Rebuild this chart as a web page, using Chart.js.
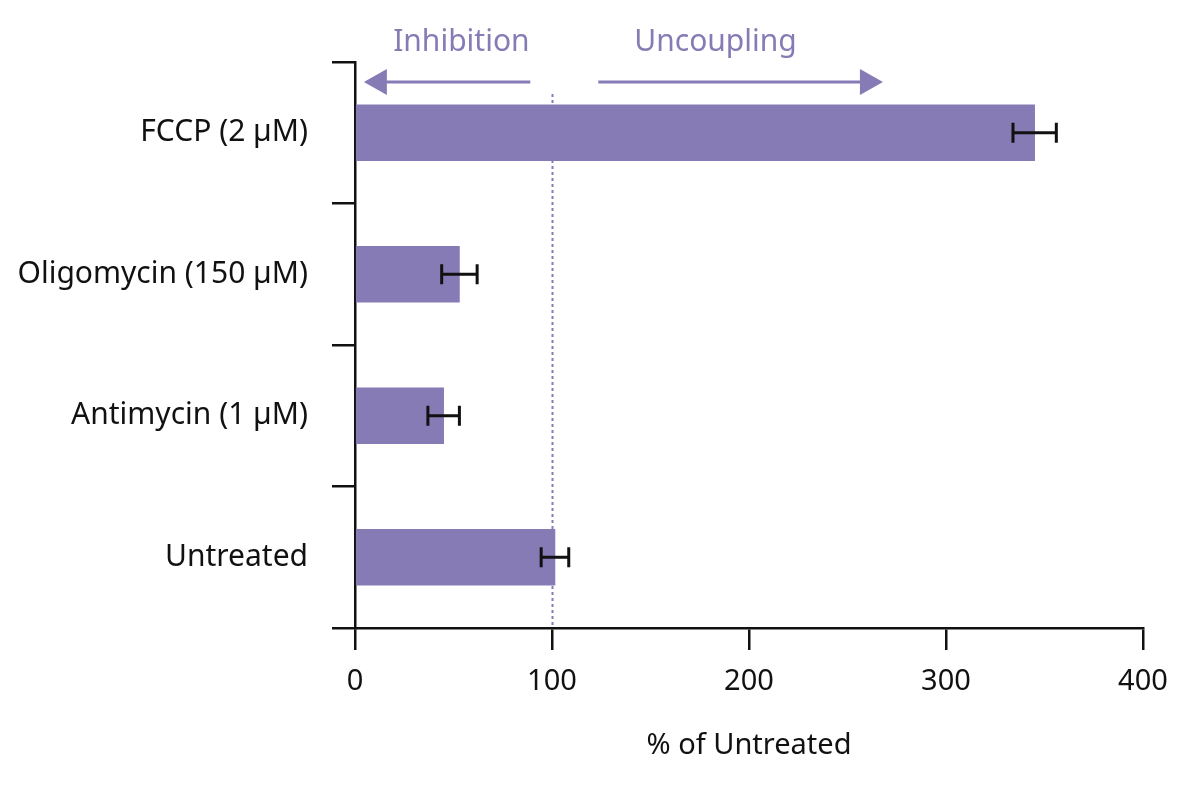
<!DOCTYPE html>
<html>
<head>
<meta charset="utf-8">
<script src="https://cdn.jsdelivr.net/npm/chart.js@4"></script>
<style>
  html, body { margin: 0; padding: 0; background: #fff; }
  #wrap { width: 1200px; height: 789px; }
</style>
</head>
<body>
<div id="wrap"><canvas id="oxChart"></canvas></div>
<script>
// data (horizontal bars, top to bottom)
const categories = ['FCCP (2 µM)', 'Oligomycin (150 µM)', 'Antimycin (1 µM)', 'Untreated'];
const percentValues = [345, 53, 45, 101.5];
const percentErrors = [11, 9, 8, 7];
const xTicks = [0, 100, 200, 300, 400];

const purple = '#877bb5';
const fontFamily = '"Noto Sans", sans-serif';

// error bars, reference line at 100 and the two direction arrows
const extras = {
    id: 'extras',
    afterDatasetsDraw(chart) {
        const c = chart.ctx;
        const xs = chart.scales.x;
        const ys = chart.scales.y;

        // error bars
        c.save();
        c.strokeStyle = '#111';
        c.lineWidth = 3;
        percentValues.forEach((v, i) => {
            const y = ys.getPixelForValue(i);
            const x1 = xs.getPixelForValue(v - percentErrors[i]);
            const x2 = xs.getPixelForValue(v + percentErrors[i]);
            c.beginPath();
            c.moveTo(x1, y); c.lineTo(x2, y);
            c.moveTo(x1, y - 10); c.lineTo(x1, y + 10);
            c.moveTo(x2, y - 10); c.lineTo(x2, y + 10);
            c.stroke();
        });
        c.restore();

        // arrows + labels
        const ay = 82;
        c.save();
        c.strokeStyle = purple;
        c.fillStyle = purple;
        c.lineWidth = 3;
        const arrow = (fromV, toV) => {
            const a = xs.getPixelForValue(fromV);
            const b = xs.getPixelForValue(toV);
            const dir = b > a ? 1 : -1;
            c.beginPath();
            c.moveTo(a, ay); c.lineTo(b - dir * 20, ay);
            c.stroke();
            c.beginPath();
            c.moveTo(b, ay);
            c.lineTo(b - dir * 23, ay - 13);
            c.lineTo(b - dir * 23, ay + 13);
            c.closePath();
            c.fill();
        };
        arrow(89, 4.5);
        arrow(123.5, 268);
        c.font = '30px ' + fontFamily;
        c.textAlign = 'center';
        c.textBaseline = 'middle';
        c.fillText('Inhibition', xs.getPixelForValue(54), 42);
        c.fillText('Uncoupling', xs.getPixelForValue(183), 42);
        c.restore();
    },
    beforeDatasetsDraw(chart) {
        const c = chart.ctx;
        const x = Math.round(chart.scales.x.getPixelForValue(100)) + 0.5;
        c.save();
        c.strokeStyle = purple;
        c.lineWidth = 2;
        c.setLineDash([3, 3]);
        c.beginPath();
        c.moveTo(x, 94);
        c.lineTo(x, chart.chartArea.bottom);
        c.stroke();
        c.restore();
    }
};

new Chart(document.getElementById('oxChart'), {
    type: 'bar',
    data: {
        labels: categories,
        datasets: [{
            data: percentValues,
            backgroundColor: purple,
            borderWidth: 0,
            barThickness: 56
        }]
    },
    options: {
        indexAxis: 'y',
        responsive: true,
        maintainAspectRatio: false,
        animation: false,
        layout: { padding: { left: 0, right: 57, top: 62, bottom: 0 } },
        plugins: { legend: { display: false }, tooltip: { enabled: false } },
        scales: {
            x: {
                type: 'linear',
                min: 0,
                max: 400,
                afterBuildTicks(scale) { scale.ticks = xTicks.map(v => ({ value: v })); },
                afterFit(scale) { scale.height = 161; },
                grid: {
                    drawOnChartArea: false,
                    drawTicks: true,
                    tickLength: 22,
                    color: '#111',
                    lineWidth: 2.5
                },
                border: { display: true, color: '#111', width: 2.5 },
                ticks: {
                    color: '#111',
                    padding: 14,
                    maxRotation: 0,
                    font: { family: fontFamily, size: 29 }
                },
                title: {
                    display: true,
                    text: '% of Untreated',
                    color: '#111',
                    padding: { top: 0, bottom: 26 },
                    font: { family: fontFamily, size: 29 }
                }
            },
            y: {
                type: 'category',
                offset: true,
                afterFit(scale) { scale.width = 355; },
                grid: {
                    offset: true,
                    drawOnChartArea: false,
                    drawTicks: true,
                    tickLength: 23,
                    color: '#111',
                    lineWidth: 2.5
                },
                border: { display: true, color: '#111', width: 2.5 },
                ticks: {
                    color: '#111',
                    padding: 24,
                    font: { family: fontFamily, size: 30 }
                }
            }
        }
    },
    plugins: [extras]
});
</script>
</body>
</html>
